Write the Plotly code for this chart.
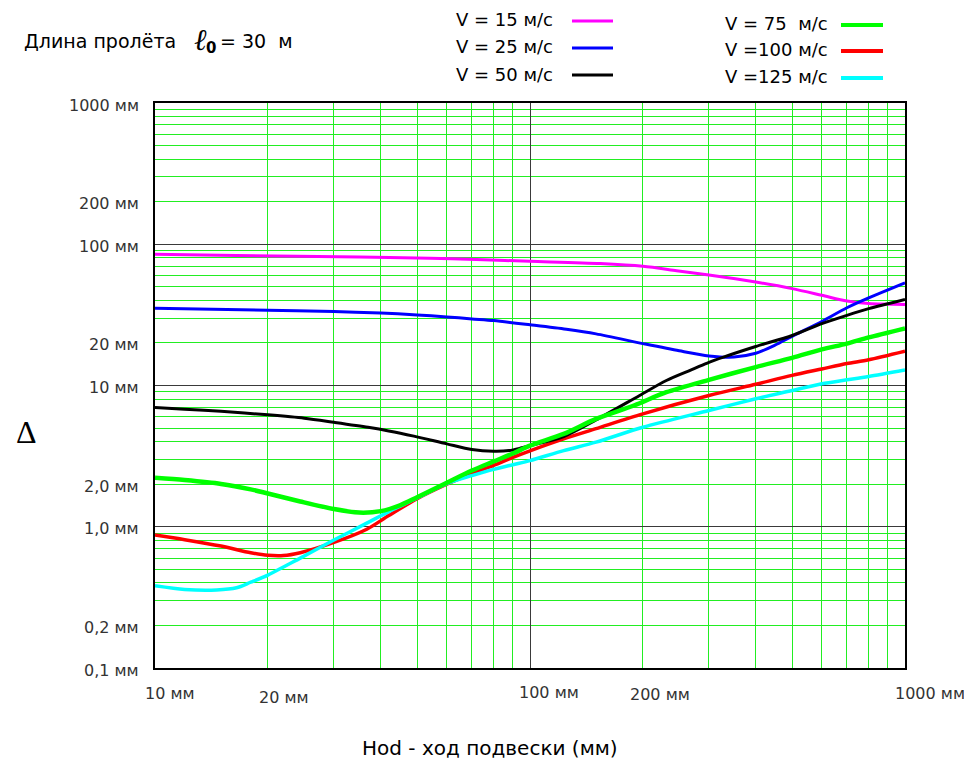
import math
import plotly.graph_objects as go

# Suspension travel (mm) and deflection Δ (mm) for each speed V
x_v15 = [10, 16.5, 35, 54, 72, 100, 154, 200, 246, 300, 400, 500, 600, 700, 800, 1000]
d_v15 = [85, 83.2, 81.2, 79.6, 77.9, 75.7, 73.0, 69.8, 65.0, 60.6, 54.0, 48.5, 43.5, 39.6, 38.0, 37.5]

x_v25 = [10, 20, 30, 40, 50, 60, 70, 80, 100, 125, 150, 200, 250, 300, 350, 400, 450, 500, 600, 700, 800, 1000]
d_v25 = [35.2, 34.1, 33.4, 32.6, 31.6, 30.6, 29.6, 28.8, 26.9, 25.0, 23.2, 19.8, 17.6, 16.2, 15.9, 16.9, 19.3, 22.3, 28.4, 35.5, 41.7, 53.3]

x_v50 = [10, 12, 15, 20, 25, 30, 37, 42, 49, 60, 70, 80, 88, 95, 100, 123, 150, 196, 231, 273, 300, 328, 400, 500, 600, 700, 800, 1000]
d_v50 = [7.0, 6.8, 6.57, 6.2, 5.87, 5.49, 5.06, 4.77, 4.38, 3.86, 3.52, 3.42, 3.46, 3.62, 3.75, 4.35, 5.7, 8.5, 10.85, 13.1, 14.6, 15.9, 18.9, 22.6, 27.4, 31.4, 35.0, 40.7]

x_v75 = [10, 12, 15, 18, 20, 24.4, 30, 35, 40, 45, 50, 60, 70, 80, 90, 100, 123, 150, 190, 231, 300, 400, 500, 600, 700, 800, 1000]
d_v75 = [2.22, 2.14, 2.01, 1.84, 1.72, 1.51, 1.335, 1.26, 1.29, 1.42, 1.62, 2.05, 2.5, 2.9, 3.3, 3.75, 4.54, 5.8, 7.25, 8.96, 10.97, 13.5, 15.7, 18.0, 19.8, 21.9, 25.4]

x_v100 = [10, 12, 15, 18, 20, 22, 24.4, 30, 36.7, 42, 50, 60, 70, 80, 90, 100, 123, 150, 200, 300, 400, 500, 600, 700, 800, 1000]
d_v100 = [0.873, 0.81, 0.73, 0.655, 0.628, 0.625, 0.655, 0.774, 0.96, 1.2, 1.58, 2.0, 2.38, 2.72, 3.1, 3.45, 4.19, 4.95, 6.3, 8.49, 10.2, 11.8, 13.1, 14.3, 15.2, 17.5]

x_v125 = [10, 12, 14.6, 16.5, 18, 20, 24.4, 30, 36.7, 42, 50, 60, 70, 80, 90, 100, 123, 150, 200, 300, 400, 500, 600, 700, 800, 1000]
d_v125 = [0.382, 0.36, 0.357, 0.37, 0.405, 0.455, 0.6, 0.805, 1.06, 1.28, 1.6, 2.02, 2.3, 2.55, 2.75, 2.94, 3.46, 3.97, 5.06, 6.65, 8.05, 9.21, 10.3, 10.97, 11.6, 12.9]

# Axis labels
y_tick_vals = [1000, 200, 100, 20, 10, 2, 1, 0.2, 0.1]
y_tick_text = ["1000 мм", "200 мм", "100 мм", "20 мм", "10 мм", "2,0 мм", "1,0 мм", "0,2 мм", "0,1 мм"]
x_tick_vals = [10, 20, 100, 200, 1000]
x_tick_text = ["10 мм", "20 мм", "100 мм", "200 мм", "1000 мм"]
x_tick_shift = [(15, -25), (16, -29), (19, -24), (17, -26), (25, -25)]

legend_left = ["V = 15 м/с", "V = 25 м/с", "V = 50 м/с"]
legend_right = ["V = 75  м/с", "V =100 м/с", "V =125 м/с"]

W, H = 964, 762
L, R, T, B = 155, 59, 103, 94
PW, PH = W - L - R, H - T - B
FONT = "DejaVu Sans"


def fx(px):
    return (px - L) / PW


def fy(py):
    return (H - B - py) / PH


series = [
    (x_v15, d_v15, "#ff00ff", 3),
    (x_v25, d_v25, "#0000ff", 3),
    (x_v100, d_v100, "#ff0000", 3.5),
    (x_v125, d_v125, "#00ffff", 3.5),
    (x_v50, d_v50, "#000000", 3),
    (x_v75, d_v75, "#00ff00", 4.5),
]

fig = go.Figure()
for xs, ys, col, w in series:
    fig.add_trace(go.Scatter(x=xs, y=ys, mode="lines",
                             line=dict(color=col, width=w, shape="spline", smoothing=0.8),
                             showlegend=False, hoverinfo="skip"))

minor_x = [m * d for d in (10, 100) for m in range(2, 10)]
minor_y = [m * d for d in (0.1, 1, 10, 100) for m in range(2, 10)]

fig.update_xaxes(type="log", range=[1, 3], tickvals=[10, 100, 1000], showticklabels=False,
                 ticks="", showgrid=True, gridcolor="#3a3a3a", gridwidth=1,
                 minor=dict(tickvals=minor_x, showgrid=True, gridcolor="#22ee22", gridwidth=1, ticks=""),
                 showline=True, linecolor="black", linewidth=2, mirror=True, zeroline=False)
fig.update_yaxes(type="log", range=[-1, 3], tickvals=[0.1, 1, 10, 100, 1000], showticklabels=False,
                 ticks="", showgrid=True, gridcolor="#3a3a3a", gridwidth=1,
                 minor=dict(tickvals=minor_y, showgrid=True, gridcolor="#22ee22", gridwidth=1, ticks=""),
                 showline=True, linecolor="black", linewidth=2, mirror=True, zeroline=False)

ann = []
for v, t in zip(y_tick_vals, y_tick_text):
    ann.append(dict(x=0, xref="paper", y=math.log10(v), yref="y", text=t, showarrow=False,
                    xanchor="right", yanchor="middle", xshift=-14, yshift=-2,
                    font=dict(family=FONT, size=16, color="#333333")))
for v, t, (dx, dy) in zip(x_tick_vals, x_tick_text, x_tick_shift):
    ann.append(dict(x=math.log10(v), xref="x", y=0, yref="paper", text=t, showarrow=False,
                    xanchor="center", yanchor="middle", xshift=dx, yshift=dy,
                    font=dict(family=FONT, size=16, color="#333333")))

# Title block
ann.append(dict(x=fx(22), y=fy(41), xref="paper", yref="paper", text="Длина пролёта",
                showarrow=False, xanchor="left", yanchor="middle",
                font=dict(family=FONT, size=19, color="black")))
ann.append(dict(x=fx(200), y=fy(40), xref="paper", yref="paper", text="<i>ℓ</i>",
                showarrow=False, xanchor="center", yanchor="middle",
                font=dict(family="DejaVu Serif", size=30, color="black")))
ann.append(dict(x=fx(211), y=fy(48), xref="paper", yref="paper", text="<b>0</b>",
                showarrow=False, xanchor="center", yanchor="middle",
                font=dict(family=FONT, size=15, color="black")))
ann.append(dict(x=fx(218), y=fy(41), xref="paper", yref="paper", text="= 30  м",
                showarrow=False, xanchor="left", yanchor="middle",
                font=dict(family=FONT, size=19, color="black")))

# Legend
shapes = []
left_cols = ["#ff00ff", "#0000ff", "#000000"]
right_cols = ["#00ff00", "#ff0000", "#00ffff"]
left_y = [20, 47, 74]
right_y = [24, 50, 77]
for t, c, yy in zip(legend_left, left_cols, left_y):
    ann.append(dict(x=fx(555), y=fy(yy), xref="paper", yref="paper", text=t, showarrow=False,
                    xanchor="right", yanchor="middle", font=dict(family=FONT, size=18, color="black")))
    shapes.append(dict(type="line", xref="paper", yref="paper", x0=fx(572), x1=fx(613),
                       y0=fy(yy + 1), y1=fy(yy + 1), line=dict(color=c, width=3)))
for t, c, yy in zip(legend_right, right_cols, right_y):
    ann.append(dict(x=fx(723), y=fy(yy), xref="paper", yref="paper", text=t, showarrow=False,
                    xanchor="left", yanchor="middle", font=dict(family=FONT, size=18, color="black")))
    shapes.append(dict(type="line", xref="paper", yref="paper", x0=fx(841), x1=fx(883),
                       y0=fy(yy + 1), y1=fy(yy + 1), line=dict(color=c, width=4)))

# Axis titles
ann.append(dict(x=fx(26), y=fy(432), xref="paper", yref="paper", text="Δ", showarrow=False,
                xanchor="center", yanchor="middle",
                font=dict(family="Liberation Serif", size=32, color="black")))
ann.append(dict(x=fx(490), y=fy(748), xref="paper", yref="paper", text="Hod - ход подвески (мм)",
                showarrow=False, xanchor="center", yanchor="middle",
                font=dict(family=FONT, size=20, color="black")))

fig.update_layout(width=W, height=H, margin=dict(l=L, r=R, t=T, b=B),
                  paper_bgcolor="white", plot_bgcolor="white",
                  annotations=ann, shapes=shapes, showlegend=False)

fig.write_html("out.html")
